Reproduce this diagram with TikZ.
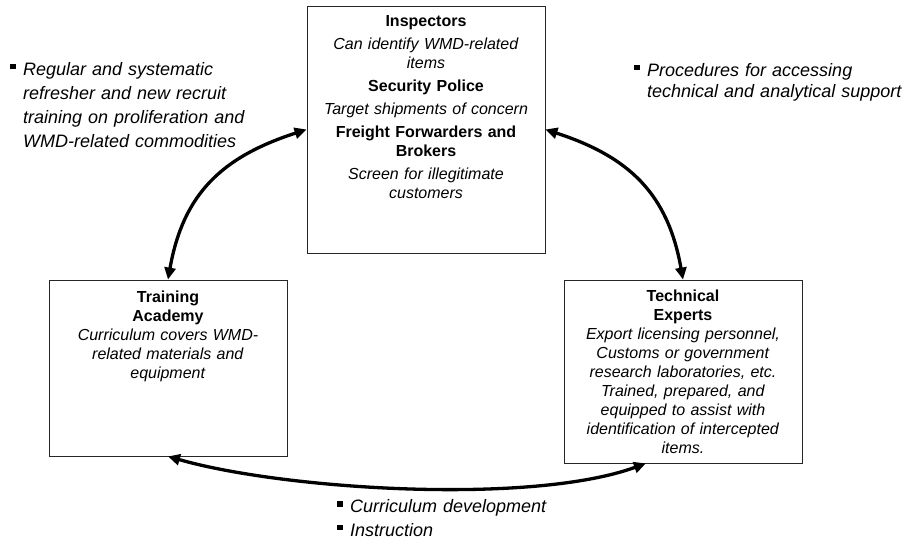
\documentclass[tikz,border=0pt]{standalone}
\usepackage{fontspec}
\setmainfont{Liberation Sans}
\usetikzlibrary{arrows.meta}

\newcommand{\sqbul}{\leavevmode\llap{\raisebox{6pt}{\rule{5.5pt}{5.5pt}}\hspace{7.5pt}}}

\tikzset{
  unit/.style={draw=black!85, line width=0.8pt, minimum width=238pt, inner sep=0pt},
  unittext/.style={anchor=north, align=center, text width=236pt, inner sep=0pt,
    font=\fontsize{16}{19}\selectfont},
  note/.style={anchor=north west, align=left, text width=290pt, inner sep=0pt,
    font=\fontsize{18}{24}\selectfont\itshape},
  link/.style={line width=3.3pt, {Triangle[length=12pt,width=11pt]}-{Triangle[length=12pt,width=11pt]}}
}

\begin{document}
\begin{tikzpicture}[x=1pt, y=1pt]
	\useasboundingbox (0,0) rectangle (911,543);
	\node[unit, minimum height=247pt] (insp) at (426,413.5) {};
	\node[unit, minimum height=176pt] (acad) at (168,175) {};
	\node[unit, minimum height=183pt] (tech) at (683,171.5) {};

	\node[unittext] (insptext) at (426,528) {\textbf{Inspectors}\\[4pt]
		\textit{Can identify WMD-related}\\ \textit{items}\\[4pt]
		\textbf{Security Police}\\[4pt]
		\textit{Target shipments of concern}\\[4pt]
		\textbf{Freight Forwarders and}\\ \textbf{Brokers}\\[4pt]
		\textit{Screen for illegitimate}\\ \textit{customers}};
	\node[unittext] (acadtext) at (168,252.5) {\textbf{Training}\\ \textbf{Academy}\\
		\textit{Curriculum covers WMD-}\\ \textit{related materials and}\\ \textit{equipment}};
	\node[unittext] (techtext) at (683,253.5) {\textbf{Technical}\\ \textbf{Experts}\\
		\textit{Export licensing personnel,}\\ \textit{Customs or government}\\
		\textit{research laboratories, etc.}\\ \textit{Trained, prepared, and}\\
		\textit{equipped to assist with}\\ \textit{identification of intercepted}\\ \textit{items.}};

	\node[note] (trainnote) at (23,481) {\sqbul Regular and systematic\\ refresher and new recruit\\
		training on proliferation and\\ WMD-related commodities};
	\node[note, font=\fontsize{18}{21.5}\selectfont\itshape] (supportnote) at (647,480)
		{\sqbul Procedures for accessing\\ technical and analytical support};
	\node[note, font=\fontsize{18}{23.3}\selectfont\itshape] (curricnote) at (350,43.5)
		{\sqbul Curriculum development\\ \sqbul Instruction};

	\draw[link] (insp.west) to[out=198, in=80, looseness=1.1] (acad.north);
	\draw[link] (insp.east) to[out=-18, in=100, looseness=1.1] (tech.north);
	\draw[link] (acad.south) to[out=-16, in=200, looseness=0.65] (tech.248);
\end{tikzpicture}
\end{document}
